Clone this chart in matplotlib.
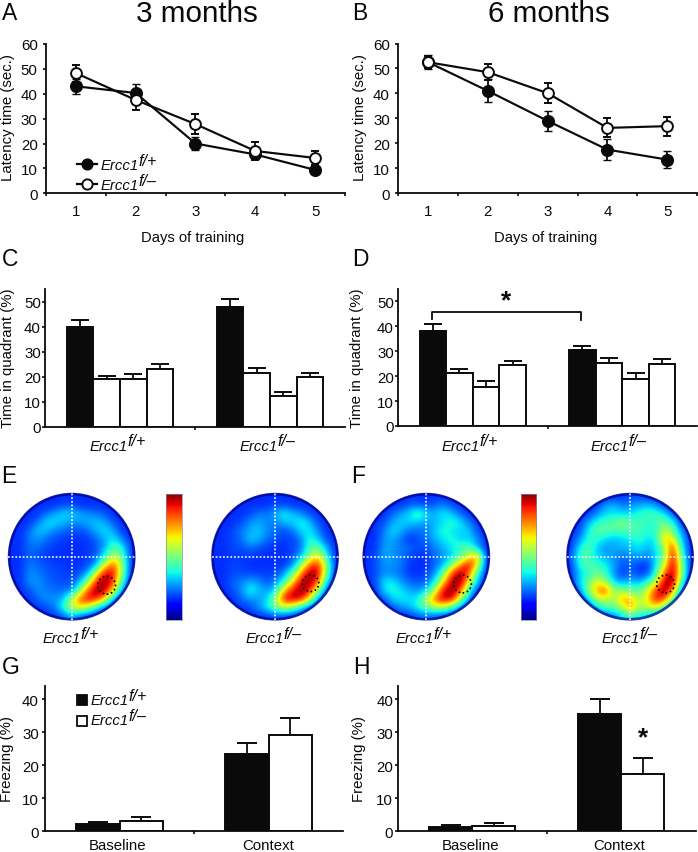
import matplotlib
matplotlib.use('Agg')
import matplotlib.pyplot as plt
import numpy as np
from matplotlib.lines import Line2D
from matplotlib.patches import Circle, Rectangle

plt.rcParams['font.family'] = ['Liberation Sans', 'DejaVu Sans']

W, H = 698, 853
INK = '#0a0a0a'

# latency curves
days = [1, 2, 3, 4, 5]
a_het = [43.0, 40.3, 20.0, 15.6, 9.4]
a_het_err = [3.0, 3.5, 2.5, 2.0, 1.5]
a_ko = [48.3, 37.5, 27.8, 17.0, 14.2]
a_ko_err = [3.4, 3.9, 4.1, 3.5, 3.0]
b_het = [52.5, 41.0, 29.0, 17.5, 13.5]
b_het_err = [2.7, 4.6, 4.0, 4.2, 3.5]
b_ko = [52.5, 48.5, 40.1, 26.2, 26.9]
b_ko_err = [2.5, 3.3, 4.1, 3.8, 3.8]

# quadrant bars, target quadrant first
groups = ['f/+', 'f/\u2013']
c_vals = [[40.0, 19.0, 19.0, 23.2], [47.9, 21.3, 12.2, 19.7]]
c_errs = [[2.5, 1.4, 2.0, 1.7], [3.1, 2.0, 1.8, 1.8]]
d_vals = [[38.3, 21.1, 15.7, 24.4], [30.4, 25.3, 19.0, 24.7]]
d_errs = [[2.5, 1.9, 2.4, 1.6], [1.9, 2.2, 2.3, 2.0]]

# freezing bars
conditions = ['Baseline', 'Context']
g_het = [2.1, 23.4]
g_het_err = [0.7, 3.5]
g_ko = [3.0, 29.1]
g_ko_err = [1.2, 5.2]
h_het = [1.3, 35.5]
h_het_err = [0.5, 4.5]
h_ko = [1.5, 17.4]
h_ko_err = [1.0, 4.8]

e_het_map = [
    [5, 5, 5, 5, 5, 5, 8, 8, 8, 5, 5, 5, 5, 5, 5],
    [5, 5, 5, 5, 10, 12, 15, 15, 12, 10, 8, 5, 5, 5, 5],
    [5, 5, 5, 10, 18, 25, 30, 30, 25, 22, 20, 15, 8, 5, 5],
    [5, 5, 10, 20, 30, 30, 25, 22, 22, 25, 28, 25, 15, 8, 5],
    [5, 8, 18, 28, 25, 20, 18, 15, 15, 18, 25, 30, 25, 12, 5],
    [5, 10, 20, 22, 18, 15, 13, 12, 12, 13, 18, 25, 32, 20, 8],
    [5, 10, 18, 18, 15, 13, 12, 12, 12, 13, 15, 25, 42, 35, 10],
    [5, 12, 18, 15, 13, 12, 12, 10, 12, 13, 18, 35, 55, 40, 12],
    [5, 12, 20, 18, 15, 14, 13, 12, 13, 15, 25, 60, 78, 50, 12],
    [5, 12, 22, 20, 17, 15, 14, 13, 15, 25, 60, 90, 85, 45, 8],
    [5, 10, 22, 22, 18, 16, 15, 15, 25, 50, 85, 97, 80, 35, 5],
    [5, 8, 15, 22, 20, 18, 18, 20, 45, 78, 95, 92, 60, 20, 5],
    [5, 5, 10, 18, 22, 22, 25, 50, 78, 88, 85, 60, 20, 8, 5],
    [5, 5, 5, 10, 15, 20, 35, 55, 62, 50, 30, 15, 8, 5, 5],
    [5, 5, 5, 5, 8, 10, 15, 25, 15, 10, 8, 5, 5, 5, 5],
]
e_ko_map = [
    [5, 5, 5, 5, 5, 5, 8, 8, 8, 5, 5, 5, 5, 5, 5],
    [5, 5, 5, 5, 8, 10, 12, 15, 15, 12, 10, 8, 5, 5, 5],
    [5, 5, 5, 8, 15, 20, 20, 25, 35, 28, 22, 15, 8, 5, 5],
    [5, 5, 8, 15, 22, 25, 20, 20, 25, 28, 35, 28, 15, 8, 5],
    [5, 8, 15, 20, 25, 28, 22, 18, 15, 18, 28, 32, 22, 10, 5],
    [5, 10, 15, 18, 28, 25, 18, 15, 13, 14, 20, 35, 28, 15, 8],
    [5, 10, 15, 15, 18, 15, 13, 12, 12, 14, 18, 38, 45, 25, 8],
    [5, 10, 13, 13, 13, 12, 11, 10, 12, 14, 25, 48, 62, 35, 10],
    [5, 10, 15, 13, 12, 12, 11, 11, 13, 20, 45, 75, 85, 50, 10],
    [5, 10, 15, 15, 14, 14, 13, 14, 22, 40, 70, 95, 90, 45, 8],
    [5, 10, 18, 20, 25, 22, 16, 20, 35, 60, 90, 99, 78, 30, 5],
    [5, 8, 15, 22, 35, 28, 22, 30, 65, 85, 95, 85, 50, 15, 5],
    [5, 5, 10, 18, 22, 22, 28, 48, 85, 92, 88, 60, 20, 8, 5],
    [5, 5, 5, 10, 15, 22, 32, 45, 55, 45, 28, 15, 8, 5, 5],
    [5, 5, 5, 5, 8, 10, 12, 15, 12, 10, 8, 5, 5, 5, 5],
]
f_het_map = [
    [5, 5, 5, 5, 5, 8, 8, 10, 10, 8, 5, 5, 5, 5, 5],
    [5, 5, 5, 8, 12, 18, 18, 15, 18, 22, 15, 8, 5, 5, 5],
    [5, 5, 8, 18, 25, 30, 42, 30, 25, 32, 28, 18, 8, 5, 5],
    [5, 5, 15, 25, 28, 28, 25, 22, 25, 30, 35, 32, 20, 8, 5],
    [5, 8, 20, 30, 25, 18, 18, 20, 28, 35, 30, 28, 30, 15, 5],
    [5, 10, 22, 25, 18, 12, 15, 18, 25, 30, 35, 28, 28, 22, 8],
    [5, 12, 25, 22, 20, 18, 15, 15, 20, 25, 30, 38, 42, 25, 8],
    [8, 15, 25, 22, 20, 15, 11, 12, 18, 22, 28, 38, 55, 75, 12],
    [8, 15, 22, 22, 20, 12, 10, 12, 18, 25, 45, 72, 90, 60, 10],
    [8, 15, 22, 20, 18, 13, 12, 13, 22, 42, 80, 97, 78, 35, 8],
    [5, 15, 30, 32, 22, 18, 15, 18, 32, 62, 92, 98, 60, 25, 5],
    [5, 10, 30, 35, 30, 25, 22, 28, 50, 88, 95, 80, 35, 12, 5],
    [5, 5, 15, 28, 32, 30, 32, 52, 78, 90, 90, 50, 22, 8, 5],
    [5, 5, 8, 15, 22, 25, 35, 42, 50, 52, 35, 20, 8, 5, 5],
    [5, 5, 5, 5, 8, 12, 15, 18, 15, 10, 8, 5, 5, 5, 5],
]
f_ko_map = [
    [5, 5, 5, 5, 5, 8, 10, 15, 15, 10, 8, 5, 5, 5, 5],
    [5, 5, 5, 8, 22, 28, 20, 22, 25, 28, 22, 12, 5, 5, 5],
    [5, 5, 10, 22, 30, 30, 30, 30, 35, 38, 40, 32, 15, 5, 5],
    [5, 8, 25, 35, 38, 42, 48, 40, 38, 35, 35, 45, 35, 12, 5],
    [5, 15, 32, 42, 42, 38, 38, 40, 38, 35, 35, 55, 45, 22, 5],
    [8, 22, 35, 35, 28, 25, 28, 30, 35, 30, 30, 68, 60, 28, 8],
    [12, 32, 42, 28, 22, 25, 25, 28, 30, 25, 30, 45, 85, 35, 8],
    [15, 38, 40, 28, 25, 22, 18, 20, 25, 20, 28, 45, 90, 42, 10],
    [12, 35, 40, 38, 32, 25, 15, 18, 13, 12, 30, 55, 92, 50, 10],
    [10, 28, 35, 42, 38, 22, 12, 18, 12, 14, 35, 75, 97, 50, 8],
    [8, 30, 40, 60, 48, 30, 22, 28, 25, 35, 50, 92, 95, 38, 5],
    [5, 20, 48, 68, 82, 48, 48, 42, 40, 55, 82, 99, 72, 22, 5],
    [5, 8, 28, 52, 55, 48, 70, 65, 50, 60, 85, 80, 45, 12, 5],
    [5, 5, 12, 28, 40, 42, 50, 75, 50, 55, 62, 40, 18, 5, 5],
    [5, 5, 5, 8, 15, 20, 28, 35, 30, 25, 18, 10, 5, 5, 5],
]

fig = plt.figure(figsize=(W / 100, H / 100), dpi=100, facecolor='white')


def px(x, y):
    return x / W, 1 - y / H


def new_axes(left, top, right, bottom):
    ax = fig.add_axes([left / W, 1 - bottom / H, (right - left) / W, (bottom - top) / H])
    ax.patch.set_alpha(0)
    return ax


def label(x, y, s, size=10.8, **kw):
    fx, fy = px(x, y)
    kw.setdefault('ha', 'center')
    kw.setdefault('va', 'center')
    return fig.text(fx, fy, s, fontsize=size, color=INK, **kw)


def genotype(x, y, sup, size=10.7, ha='center'):
    # italic name with a raised tag, the pair centred on x
    base = label(x, y, 'Ercc1', size=size, style='italic', ha='left')
    tag = label(x, y, sup, size=size * 1.08, style='italic', ha='left')
    r = fig.canvas.get_renderer()
    bw = base.get_window_extent(r).width
    tw = tag.get_window_extent(r).width
    x0 = x - (bw + tw) / 2 if ha == 'center' else x
    base.set_x(x0 / W)
    tag.set_position(((x0 + bw - 0.5) / W, 1 - (y - 5) / H))


def style_axes(ax, yticks, pad):
    for s in ['top', 'right']:
        ax.spines[s].set_visible(False)
    for s in ['left', 'bottom']:
        ax.spines[s].set_linewidth(1.3)
        ax.spines[s].set_color(INK)
    ax.set_yticks(yticks)
    ax.tick_params(axis='y', length=2.5, width=1.2, labelsize=10.8, pad=pad, colors=INK)
    ax.tick_params(axis='x', length=2.2, width=1.2, colors=INK)


def latency_panel(rect, het, het_err, ko, ko_err):
    ax = new_axes(*rect)
    ax.set_xlim(0.5, 5.5)
    ax.set_ylim(0, 60)
    style_axes(ax, range(0, 61, 10), 3.5)
    ax.set_xticks(np.arange(0.5, 6, 1))
    ax.set_xticklabels([])
    ax.set_xticks(days, [str(d) for d in days], minor=True)
    ax.tick_params(axis='x', which='minor', length=0, labelsize=10.8, pad=8, colors=INK)
    kw = dict(color=INK, lw=1.55, capsize=2.9, capthick=1.3, elinewidth=1.3, clip_on=False)
    ax.errorbar(days, het, yerr=het_err, fmt='-o', ms=8.4, mfc=INK, mec=INK, mew=1, zorder=3, **kw)
    ax.errorbar(days, ko, yerr=ko_err, fmt='-o', ms=7.8, mfc='white', mec=INK, mew=1.4, zorder=4, **kw)
    return ax


def quadrant_panel(rect, vals, errs):
    ax = new_axes(*rect)
    ax.set_xlim(-0.5, 1.5)
    ax.set_ylim(0, 55)
    style_axes(ax, range(0, 51, 10), 0.5)
    ax.set_xticks([0.5])
    ax.set_xticklabels([])
    width = 0.178
    for g, (v, e) in enumerate(zip(vals, errs)):
        xs = g + (np.arange(4) - 1.5) * width
        ax.errorbar(xs, v, yerr=[[0] * 4, e], fmt='none', ecolor=INK, elinewidth=1.3,
                    capsize=6.6, capthick=1.4, zorder=1)
        colors = [INK, 'white', 'white', 'white']
        ax.bar(xs, v, width=width, color=colors, edgecolor=INK, linewidth=1.4, zorder=2)
    return ax


def freezing_panel(rect, het, het_err, ko, ko_err, pad):
    ax = new_axes(*rect)
    ax.set_xlim(-0.5, 1.5)
    ax.set_ylim(0, 44)
    style_axes(ax, range(0, 41, 10), pad)
    ax.set_xticks([0.5])
    ax.set_xticklabels([])
    width = 0.29
    xs = np.arange(2)
    kw = dict(fmt='none', ecolor=INK, elinewidth=1.3, capsize=7.2, capthick=1.4, zorder=1)
    ax.errorbar(xs - width / 2, het, yerr=[[0, 0], het_err], **kw)
    ax.errorbar(xs + width / 2, ko, yerr=[[0, 0], ko_err], **kw)
    ax.bar(xs - width / 2, het, width=width, color=INK, edgecolor=INK, linewidth=1.4, zorder=2)
    ax.bar(xs + width / 2, ko, width=width, color='white', edgecolor=INK, linewidth=1.4, zorder=2)
    return ax


def disc(cx, cy, grid, spot):
    r = 63.5
    ax = new_axes(cx - r, cy - r, cx + r, cy + r)
    ax.set_xlim(-1, 1)
    ax.set_ylim(-1, 1)
    ax.axis('off')
    # lift the floor, the dark rim is drawn separately below
    vals = np.clip(np.array(grid) + 5, 17, 100) / 100
    im = ax.imshow(vals, cmap='jet', vmin=0, vmax=1, extent=(-1, 1, -1, 1),
                   interpolation='bicubic', aspect='auto')
    clip = Circle((0, 0), 1, transform=ax.transData)
    im.set_clip_path(clip)
    ring = Circle((0, 0), 0.985, fill=False, ec='#00008c', lw=2.0, alpha=0.7, clip_on=False)
    ax.add_patch(ring)
    ax.plot([-1, 1], [0, 0], color='white', lw=1.1, ls=(0, (1.2, 1.2)))
    ax.plot([0, 0], [-1, 1], color='white', lw=1.1, ls=(0, (1.2, 1.2)))
    ax.add_patch(Circle(spot[:2], spot[2], fill=False, ec='black', lw=1.2, ls=(0, (1, 1.6))))


def colorbar(left):
    ax = new_axes(left, 494.5, left + 15.7, 620.5)
    ax.imshow(np.linspace(1, 0, 256)[:, None], cmap='jet', vmin=0, vmax=1, aspect='auto')
    ax.set_xticks([])
    ax.set_yticks([])
    for s in ax.spines.values():
        s.set_linewidth(0.5)
        s.set_color('#8a8a9a')


# --- line panels
latency_panel((46, 45, 345, 194.3), a_het, a_het_err, a_ko, a_ko_err)
latency_panel((398.3, 44.5, 697, 194.3), b_het, b_het_err, b_ko, b_ko_err)

# --- quadrant panels
quadrant_panel((45, 290, 345, 427.5), c_vals, c_errs)
ax_d = quadrant_panel((398, 290, 697, 427), d_vals, d_errs)
ax_d.plot([-0.275, -0.275, 0.725, 0.725], [42.9, 45.8, 45.8, 42.4], color=INK, lw=1.3)

# --- heat maps
disc(71.7, 557.7, e_het_map, (0.55, -0.45, 0.14))
disc(275, 557.7, e_ko_map, (0.56, -0.42, 0.13))
disc(426.3, 557.7, f_het_map, (0.57, -0.43, 0.14))
disc(630, 557.7, f_ko_map, (0.56, -0.43, 0.14))
colorbar(166)
colorbar(520.7)

# --- freezing panels
freezing_panel((45, 687.3, 343, 832.3), g_het, g_het_err, g_ko, g_ko_err, 2.0)
freezing_panel((397.7, 687.3, 695.7, 832.3), h_het, h_het_err, h_ko, h_ko_err, 0.8)

# --- A legend, in figure pixels
for y, face in [(165, INK), (185, 'white')]:
    fig.add_artist(Line2D([77 / W, 97 / W], [1 - y / H] * 2, color=INK, lw=1.6, zorder=5))
    fig.add_artist(Line2D([87 / W], [1 - y / H], color=INK, marker='o', ms=7.4, mfc=face, mew=1.35,
                          ls='none', zorder=6))
genotype(101, 166, groups[0], ha='left')
genotype(101, 186, groups[1], ha='left')

# --- G legend
for top, face in [(696, INK), (716.7, 'white')]:
    fig.add_artist(Rectangle((77 / W, 1 - (top + 10) / H), 10 / W, 10 / H, fc=face, ec=INK, lw=1.3,
                             transform=fig.transFigure))
genotype(91, 701.5, groups[0], ha='left')
genotype(91, 721.5, groups[1], ha='left')

# --- text
label(196.7, 14.5, '3 months', size=21.3)
label(549, 14.5, '6 months', size=21.3)
for s, x, y in [('A', 10, 13), ('B', 360, 13), ('C', 10, 260), ('D', 360, 260),
                ('E', 9, 477), ('F', 358, 477), ('G', 11, 668), ('H', 361, 668)]:
    label(x, y, s, size=16.5)

for x in (8, 359.7):
    label(x, 117.5, 'Latency time (sec.)', rotation=90)
for x in (193, 545.7):
    label(x, 238, 'Days of training', size=10.6)
for x in (8, 357):
    label(x, 358, 'Time in quadrant (%)', rotation=90)
for x in (7.5, 359.5):
    label(x, 759.5, 'Freezing (%)', rotation=90)

for x1, x2 in [(118, 268), (470, 619)]:
    genotype(x1, 447, groups[0])
    genotype(x2, 447, groups[1])
for x, s in [(71, groups[0]), (274, groups[1]), (424, groups[0]), (630, groups[1])]:
    genotype(x, 639.5, s)
for xs in [(118, 268), (470.7, 619)]:
    for x, s in zip(xs, conditions):
        label(x, 846.5, s, size=10.8)

label(506, 301, '*', size=19, fontweight='bold')
label(643, 738, '*', size=19, fontweight='bold')

fig.savefig('out.png', dpi=100)
